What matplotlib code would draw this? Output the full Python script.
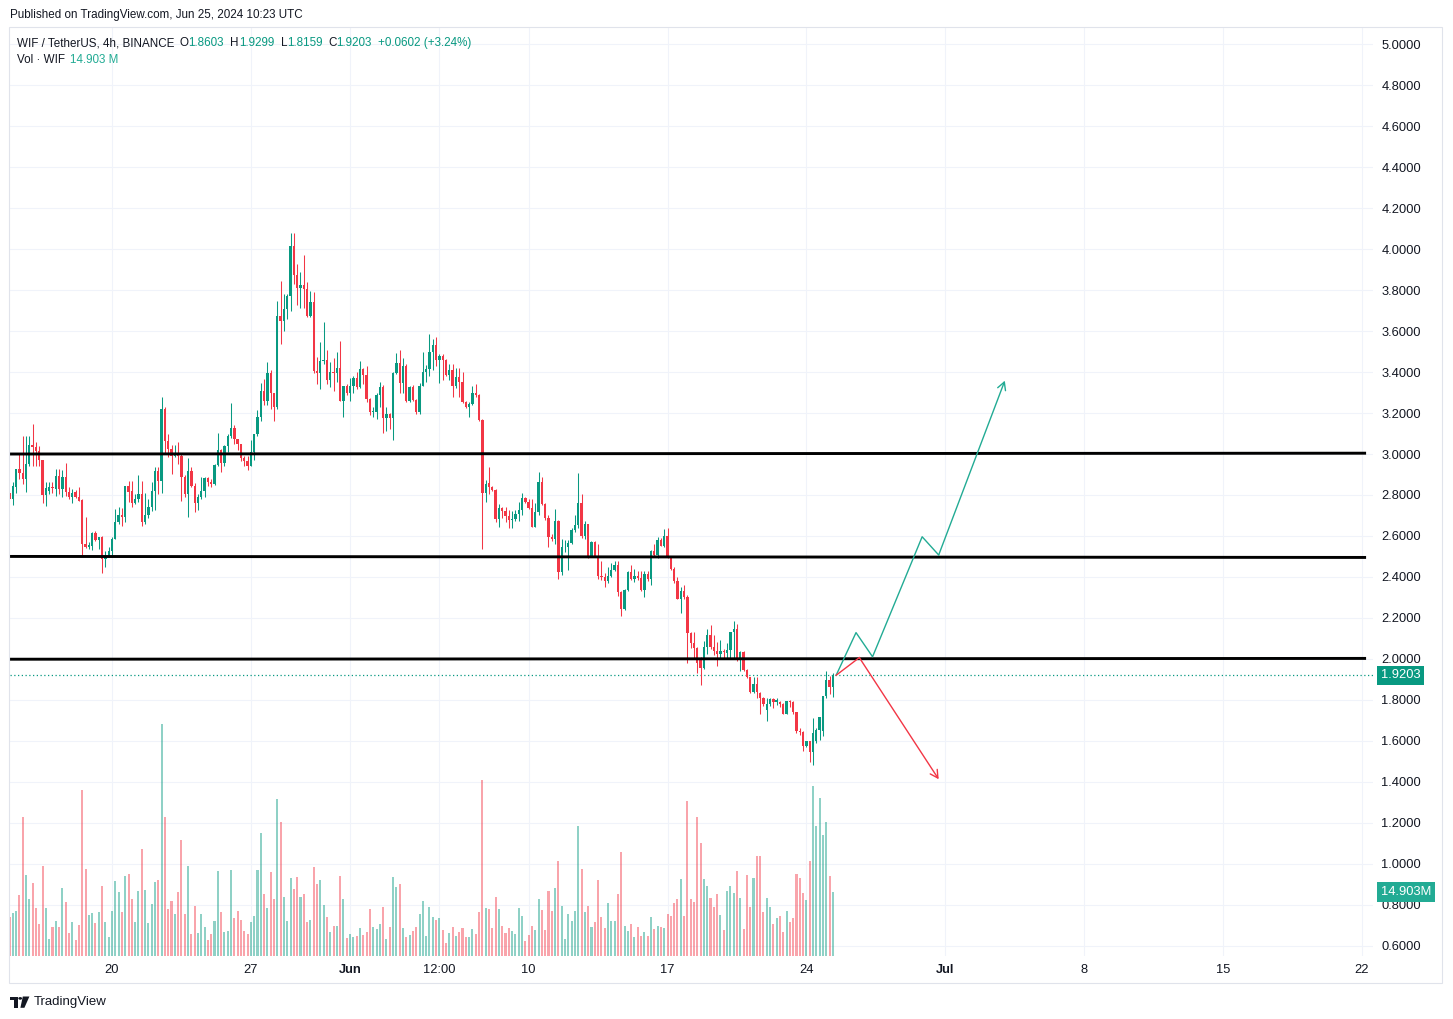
import numpy as np
import pandas as pd
import matplotlib
matplotlib.use("Agg")
import matplotlib.pyplot as plt
import matplotlib.dates as mdates
import matplotlib.transforms as mtransforms
from matplotlib.patches import Rectangle, Polygon, Circle

W, H = 1453, 1019
UP = "#089981"
DOWN = "#F23645"
VOL_UP = "#22ab94"
TEXT = "#131722"
GRID = "#f0f3fa"

# 4h candles, WIF/USDT, first bar 2024-05-14 20:00 UTC
first_bar = "2024-05-14 20:00"
opens = [
    2.81, 2.78, 2.84, 2.927, 2.909, 2.878, 2.951, 3.045, 3.036, 3.016,
    2.971, 2.80, 2.821, 2.84, 2.829, 2.894, 2.827, 2.889, 2.816, 2.788,
    2.816, 2.79, 2.775, 2.56, 2.547, 2.552, 2.616, 2.58, 2.596, 2.487,
    2.50, 2.528, 2.585, 2.669, 2.702, 2.694, 2.845, 2.821, 2.76, 2.78,
    2.805, 2.669, 2.702, 2.742, 2.821, 2.918, 2.866, 3.22, 3.065, 3.024,
    2.992, 3.00, 2.992, 2.889, 2.805, 2.918, 2.845, 2.759, 2.791, 2.821,
    2.883, 2.861, 2.855, 2.948, 3.019, 2.954, 3.039, 3.089, 3.127, 3.073,
    3.049, 2.98, 2.964, 2.943, 3.008, 3.097, 3.182, 3.309, 3.26, 3.396,
    3.296, 3.228, 3.676, 3.648, 3.708, 3.773, 4.018, 3.874, 3.811, 3.826,
    3.806, 3.672, 3.741, 3.404, 3.395, 3.456, 3.46, 3.362, 3.402, 3.398,
    3.42, 3.257, 3.334, 3.30, 3.334, 3.371, 3.325, 3.415, 3.387, 3.271,
    3.205, 3.205, 3.29, 3.329, 3.176, 3.195, 3.176, 3.398, 3.444, 3.347,
    3.428, 3.261, 3.325, 3.265, 3.206, 3.334, 3.402, 3.415, 3.50, 3.534,
    3.458, 3.478, 3.458, 3.387, 3.41, 3.33, 3.374, 3.353, 3.252, 3.228,
    3.245, 3.296, 3.29, 3.166, 2.808, 2.857, 2.84, 2.824, 2.685, 2.736,
    2.72, 2.699, 2.678, 2.685, 2.707, 2.728, 2.787, 2.768, 2.736, 2.645,
    2.715, 2.861, 2.756, 2.687, 2.593, 2.585, 2.674, 2.422, 2.544, 2.548,
    2.565, 2.63, 2.653, 2.759, 2.602, 2.658, 2.503, 2.568, 2.503, 2.405,
    2.40, 2.378, 2.405, 2.433, 2.459, 2.324, 2.243, 2.336, 2.422, 2.392,
    2.405, 2.395, 2.336, 2.414, 2.39, 2.528, 2.507, 2.581, 2.552, 2.601,
    2.492, 2.438, 2.381, 2.292, 2.33, 2.30, 2.126, 2.075, 2.052, 2.006,
    1.954, 2.06, 2.117, 2.06, 2.04, 2.025, 2.04, 2.03, 2.045, 2.129,
    2.145, 1.994, 2.031, 1.945, 1.909, 1.84, 1.876, 1.835, 1.811, 1.749,
    1.779, 1.806, 1.79, 1.79, 1.78, 1.733, 1.792, 1.787, 1.738, 1.648,
    1.645, 1.575, 1.60, 1.547, 1.60, 1.652, 1.65, 1.819, 1.896, 1.8603,
]
highs = [
    2.82, 2.861, 2.927, 3.00, 3.089, 3.089, 3.089, 3.147, 3.057, 3.04,
    2.971, 2.861, 2.861, 2.861, 2.927, 2.927, 2.922, 2.956, 2.837, 2.829,
    2.824, 2.837, 2.78, 2.694, 2.568, 2.62, 2.625, 2.596, 2.60, 2.528,
    2.544, 2.594, 2.731, 2.743, 2.736, 2.845, 2.87, 2.87, 2.805, 2.899,
    2.87, 2.808, 2.78, 2.861, 2.935, 2.935, 3.28, 3.231, 3.098, 3.045,
    3.045, 3.057, 3.00, 2.90, 2.98, 2.935, 2.86, 2.805, 2.886, 2.886,
    2.89, 2.88, 2.952, 3.101, 3.025, 3.045, 3.10, 3.247, 3.14, 3.073,
    3.05, 2.99, 2.99, 3.07, 3.097, 3.215, 3.345, 3.366, 3.448, 3.41,
    3.30, 3.749, 3.847, 3.781, 3.78, 4.08, 4.08, 3.93, 3.888, 3.972,
    3.84, 3.798, 3.79, 3.475, 3.549, 3.646, 3.508, 3.448, 3.47, 3.50,
    3.553, 3.334, 3.34, 3.37, 3.38, 3.40, 3.455, 3.42, 3.432, 3.275,
    3.23, 3.30, 3.353, 3.335, 3.23, 3.20, 3.40, 3.491, 3.509, 3.47,
    3.44, 3.33, 3.335, 3.27, 3.345, 3.50, 3.435, 3.586, 3.56, 3.573,
    3.49, 3.49, 3.465, 3.44, 3.44, 3.42, 3.42, 3.40, 3.26, 3.255,
    3.332, 3.34, 3.295, 3.17, 2.873, 2.935, 2.845, 2.83, 2.756, 2.74,
    2.74, 2.728, 2.72, 2.725, 2.768, 2.811, 2.79, 2.78, 2.78, 2.76,
    2.913, 2.89, 2.76, 2.70, 2.61, 2.731, 2.68, 2.585, 2.58, 2.58,
    2.64, 2.702, 2.906, 2.805, 2.675, 2.66, 2.576, 2.575, 2.56, 2.48,
    2.42, 2.45, 2.47, 2.48, 2.48, 2.33, 2.34, 2.427, 2.46, 2.44,
    2.43, 2.43, 2.43, 2.43, 2.53, 2.56, 2.596, 2.59, 2.634, 2.639,
    2.50, 2.45, 2.40, 2.35, 2.36, 2.31, 2.13, 2.132, 2.06, 2.01,
    2.088, 2.145, 2.165, 2.117, 2.08, 2.09, 2.05, 2.075, 2.13, 2.186,
    2.17, 2.04, 2.04, 1.95, 1.91, 1.91, 1.91, 1.84, 1.815, 1.81,
    1.81, 1.81, 1.81, 1.795, 1.782, 1.795, 1.80, 1.795, 1.74, 1.66,
    1.648, 1.60, 1.60, 1.71, 1.66, 1.717, 1.82, 1.941, 1.917, 1.9299,
]
lows = [
    2.78, 2.751, 2.812, 2.878, 2.853, 2.816, 2.943, 2.943, 2.943, 2.943,
    2.759, 2.744, 2.805, 2.809, 2.796, 2.805, 2.788, 2.796, 2.78, 2.761,
    2.785, 2.772, 2.503, 2.541, 2.536, 2.531, 2.576, 2.536, 2.417, 2.446,
    2.495, 2.495, 2.585, 2.658, 2.65, 2.666, 2.764, 2.739, 2.756, 2.764,
    2.65, 2.658, 2.69, 2.722, 2.726, 2.804, 2.812, 3.00, 2.984, 2.902,
    2.985, 2.951, 2.772, 2.788, 2.694, 2.837, 2.715, 2.726, 2.78, 2.79,
    2.845, 2.84, 2.85, 2.94, 2.91, 2.94, 3.01, 3.08, 3.05, 3.02,
    2.965, 2.94, 2.922, 2.94, 2.97, 3.09, 3.16, 3.24, 3.24, 3.22,
    3.163, 3.22, 3.538, 3.60, 3.66, 3.70, 3.83, 3.73, 3.711, 3.711,
    3.667, 3.667, 3.398, 3.342, 3.318, 3.44, 3.342, 3.329, 3.31, 3.35,
    3.257, 3.179, 3.29, 3.26, 3.30, 3.318, 3.32, 3.34, 3.255, 3.191,
    3.18, 3.171, 3.23, 3.101, 3.11, 3.12, 3.068, 3.39, 3.30, 3.30,
    3.255, 3.255, 3.26, 3.196, 3.196, 3.33, 3.35, 3.38, 3.41, 3.43,
    3.345, 3.36, 3.38, 3.36, 3.276, 3.32, 3.28, 3.25, 3.225, 3.179,
    3.24, 3.28, 3.16, 2.536, 2.767, 2.805, 2.82, 2.666, 2.645, 2.69,
    2.67, 2.64, 2.64, 2.675, 2.675, 2.70, 2.76, 2.73, 2.645, 2.645,
    2.70, 2.75, 2.68, 2.547, 2.575, 2.56, 2.389, 2.41, 2.52, 2.433,
    2.56, 2.62, 2.64, 2.59, 2.585, 2.49, 2.495, 2.495, 2.389, 2.385,
    2.352, 2.37, 2.40, 2.43, 2.308, 2.207, 2.24, 2.33, 2.385, 2.375,
    2.385, 2.33, 2.30, 2.38, 2.36, 2.50, 2.49, 2.55, 2.545, 2.49,
    2.435, 2.37, 2.29, 2.226, 2.29, 1.982, 2.055, 2.006, 1.933, 1.873,
    1.95, 2.025, 2.05, 2.02, 1.966, 2.00, 2.00, 2.00, 2.00, 2.00,
    1.99, 1.941, 1.94, 1.905, 1.835, 1.835, 1.811, 1.733, 1.77, 1.697,
    1.77, 1.76, 1.775, 1.765, 1.73, 1.73, 1.765, 1.733, 1.64, 1.63,
    1.55, 1.57, 1.497, 1.482, 1.59, 1.603, 1.625, 1.811, 1.828, 1.8159,
]
closes = [
    2.78, 2.845, 2.927, 2.905, 2.878, 2.951, 3.045, 3.032, 3.013, 2.971,
    2.80, 2.832, 2.84, 2.832, 2.894, 2.827, 2.889, 2.816, 2.788, 2.812,
    2.79, 2.772, 2.56, 2.547, 2.555, 2.616, 2.58, 2.596, 2.487, 2.503,
    2.528, 2.585, 2.669, 2.702, 2.694, 2.845, 2.816, 2.76, 2.78, 2.805,
    2.669, 2.702, 2.74, 2.821, 2.918, 2.866, 3.22, 3.065, 3.024, 2.992,
    3.00, 2.992, 2.889, 2.805, 2.918, 2.845, 2.759, 2.791, 2.821, 2.883,
    2.861, 2.855, 2.948, 3.019, 2.954, 3.039, 3.089, 3.127, 3.073, 3.049,
    2.98, 2.964, 2.943, 3.008, 3.097, 3.182, 3.309, 3.26, 3.396, 3.296,
    3.228, 3.676, 3.648, 3.708, 3.773, 4.018, 3.874, 3.811, 3.826, 3.806,
    3.672, 3.741, 3.404, 3.395, 3.456, 3.46, 3.362, 3.402, 3.398, 3.42,
    3.257, 3.334, 3.30, 3.334, 3.371, 3.325, 3.415, 3.387, 3.271, 3.205,
    3.212, 3.29, 3.329, 3.176, 3.195, 3.176, 3.398, 3.444, 3.347, 3.428,
    3.261, 3.325, 3.265, 3.206, 3.334, 3.402, 3.415, 3.50, 3.534, 3.458,
    3.478, 3.458, 3.387, 3.41, 3.33, 3.374, 3.35, 3.252, 3.228, 3.245,
    3.296, 3.287, 3.166, 2.808, 2.853, 2.84, 2.824, 2.685, 2.736, 2.72,
    2.699, 2.678, 2.685, 2.707, 2.728, 2.787, 2.768, 2.736, 2.645, 2.715,
    2.861, 2.756, 2.687, 2.593, 2.585, 2.674, 2.422, 2.544, 2.548, 2.565,
    2.63, 2.653, 2.759, 2.602, 2.658, 2.503, 2.568, 2.503, 2.405, 2.40,
    2.378, 2.405, 2.433, 2.459, 2.324, 2.243, 2.336, 2.422, 2.392, 2.405,
    2.395, 2.336, 2.414, 2.39, 2.528, 2.507, 2.581, 2.552, 2.601, 2.492,
    2.438, 2.381, 2.292, 2.33, 2.30, 2.126, 2.075, 2.052, 1.982, 1.954,
    2.06, 2.117, 2.06, 2.036, 2.025, 2.04, 2.035, 2.045, 2.129, 2.145,
    1.994, 2.031, 1.945, 1.909, 1.84, 1.876, 1.84, 1.811, 1.779, 1.779,
    1.806, 1.79, 1.80, 1.78, 1.733, 1.792, 1.787, 1.738, 1.648, 1.645,
    1.575, 1.60, 1.547, 1.64, 1.652, 1.717, 1.819, 1.896, 1.8601, 1.9203,
]
# volume in millions of WIF
volumes = [
    9.0, 10.01, 10.48, 14.21, 32.37, 18.86, 13.27, 17.00, 11.18, 7.45,
    20.96, 11.18, 3.96, 6.75, 8.15, 6.75, 15.84, 12.58, 5.36, 7.92,
    3.73, 7.22, 38.66, 20.26, 9.55, 10.01, 7.69, 10.25, 16.30, 7.92,
    4.42, 10.48, 17.47, 14.91, 10.25, 18.63, 19.10, 13.27, 7.92, 15.14,
    24.92, 15.37, 7.69, 12.11, 17.23, 17.70, 54.03, 32.37, 10.95, 12.81,
    9.78, 14.91, 27.01, 9.78, 20.96, 5.12, 11.64, 5.36, 9.78, 6.75,
    3.73, 5.12, 8.15, 19.80, 10.25, 5.59, 5.82, 20.03, 8.85, 10.48,
    8.38, 5.82, 5.12, 7.92, 9.32, 20.03, 28.65, 14.44, 11.18, 19.56,
    13.27, 36.56, 31.21, 13.74, 8.15, 18.17, 15.60, 18.40, 13.74, 14.44,
    7.92, 8.38, 20.73, 16.77, 17.70, 11.88, 9.08, 5.59, 6.99, 6.99,
    18.63, 13.27, 4.19, 5.12, 4.42, 4.66, 6.52, 4.89, 5.59, 10.95,
    6.75, 6.29, 7.45, 11.41, 3.96, 6.75, 18.40, 16.07, 16.77, 6.52,
    4.42, 4.89, 5.82, 6.75, 9.78, 12.81, 4.66, 11.41, 9.08, 8.38,
    8.85, 6.06, 3.03, 5.36, 6.75, 4.66, 5.59, 6.52, 4.42, 4.42,
    6.29, 5.12, 10.25, 40.99, 11.18, 10.95, 6.52, 13.74, 10.95, 6.99,
    5.36, 6.52, 5.82, 5.12, 11.18, 9.32, 3.49, 4.89, 6.99, 6.06,
    13.27, 10.71, 6.06, 15.14, 10.48, 15.84, 22.12, 11.64, 3.96, 9.78,
    8.15, 10.48, 30.28, 20.26, 10.25, 11.64, 6.75, 7.92, 17.70, 9.08,
    6.52, 12.34, 8.15, 8.15, 14.44, 24.22, 6.99, 5.82, 7.45, 4.42,
    6.75, 4.66, 5.59, 4.66, 9.08, 6.29, 6.99, 6.75, 6.52, 9.78,
    9.32, 12.34, 13.27, 17.93, 9.32, 36.10, 13.27, 12.58, 32.37, 26.32,
    17.93, 16.30, 13.51, 11.41, 14.44, 9.55, 6.06, 15.14, 16.30, 14.67,
    19.80, 13.51, 6.29, 18.86, 11.41, 18.17, 23.29, 23.29, 10.25, 13.51,
    11.41, 7.45, 8.85, 9.32, 5.59, 10.48, 7.92, 8.85, 19.10, 18.17,
    14.67, 13.04, 22.12, 39.59, 30.28, 36.80, 28.18, 31.21, 18.63, 14.903,
]

tick_dates = ["2024-05-20 00:00", "2024-05-27 00:00", "2024-06-01 00:00", "2024-06-05 12:00",
              "2024-06-10 00:00", "2024-06-17 00:00", "2024-06-24 00:00", "2024-07-01 00:00",
              "2024-07-08 00:00", "2024-07-15 00:00", "2024-07-22 00:00"]
tick_labels = ["20", "27", "Jun", "12:00", "10", "17", "24", "Jul", "8", "15", "22"]
price_ticks = [0.6, 0.8, 1.0, 1.2, 1.4, 1.6, 1.8, 2.0, 2.2, 2.4, 2.6, 2.8,
               3.0, 3.2, 3.4, 3.6, 3.8, 4.0, 4.2, 4.4, 4.6, 4.8, 5.0]

# horizontal levels drawn by the author (price at left end, price at right end)
level_left = [3.000, 2.500, 1.998]
level_right = [3.004, 2.495, 2.002]
level_start, level_end = "2024-05-14 00:00", "2024-07-22 05:00"

# projected paths
up_path_t = ["2024-06-25 12:00", "2024-06-26 12:00", "2024-06-27 08:00",
             "2024-06-29 20:00", "2024-06-30 16:00", "2024-07-04 00:00"]
up_path_p = [1.92, 2.128, 2.010, 2.596, 2.507, 3.358]
down_path_t = ["2024-06-25 12:00", "2024-06-26 16:00", "2024-06-30 16:00"]
down_path_p = [1.92, 2.006, 1.412]

x_left, x_right = "2024-05-14 20:37", "2024-07-22 13:22"
y_low, y_high = 0.549, 5.085
vol_top = 216.4


def px(xp, yp):
    return xp / W, 1 - yp / H


def dnum(strings):
    return mdates.date2num(pd.to_datetime(strings, format="%Y-%m-%d %H:%M"))


plt.rcParams["font.family"] = ["Liberation Sans", "DejaVu Sans"]

fig = plt.figure(figsize=(W / 100, H / 100), dpi=100)
fig.patch.set_facecolor("white")
ax = fig.add_axes([10 / W, 1 - 956 / H, 1363 / W, 929 / H])

times = pd.date_range(first_bar, periods=len(closes), freq="4h")
x = mdates.date2num(times)
o, hi, lo, c = (np.array(a) for a in (opens, highs, lows, closes))
colors = np.where(c >= o, UP, DOWN)
bar_w = 0.7 / 6

ax.vlines(x, lo, hi, colors=colors, lw=0.75, zorder=3)
ax.bar(x, np.maximum(np.abs(c - o), 0.004), bottom=np.minimum(o, c),
       width=bar_w, color=colors, lw=0, zorder=4)

# levels
lx = dnum([level_start, level_end])
for pl, pr in zip(level_left, level_right):
    ax.plot(lx, [pl, pr], color="black", lw=2.1, zorder=5, solid_capstyle="butt")

# projections
for pt, pp, col in ((up_path_t, up_path_p, VOL_UP), (down_path_t, down_path_p, "#f23645")):
    tx = dnum(pt)
    ax.plot(tx[:-1], pp[:-1], color=col, lw=1, zorder=6)
    ax.annotate("", xy=(tx[-1], pp[-1]), xytext=(tx[-2], pp[-2]),
                arrowprops=dict(arrowstyle="->,head_length=0.55,head_width=0.3",
                                color=col, lw=1, shrinkA=0, shrinkB=0), zorder=6)

# last price line
ax.axhline(closes[-1], color=UP, lw=0.9, ls=(0, (1, 2)), zorder=2)

ax.set_xlim(dnum([x_left, x_right]))
ax.set_ylim(y_low, y_high)
ax.grid(True, color=GRID, lw=0.8)
ax.set_axisbelow(True)
for s in ax.spines.values():
    s.set_visible(False)

# volume pane
axv = ax.twinx()
axv.bar(x, volumes, width=0.62 / 6, color=colors, alpha=0.45, lw=0)
axv.set_ylim(0, vol_top)
axv.set_yticks([])
for s in axv.spines.values():
    s.set_visible(False)

# price scale on the right (twinx moves it left, so set it afterwards)
ax.yaxis.tick_right()
ax.yaxis.set_label_position("right")
ax.set_yticks(price_ticks)
ax.set_yticklabels([f"{p:.4f}" for p in price_ticks])
ax.set_xticks(dnum(tick_dates))
ax.set_xticklabels(tick_labels)
for lbl in ax.get_xticklabels():
    if lbl.get_text() in ("Jun", "Jul"):
        lbl.set_fontweight("bold")
ax.tick_params(axis="y", which="both", left=False, right=False, labelleft=False,
               labelright=True, length=0, pad=6, labelsize=9.3, labelcolor=TEXT)
ax.tick_params(axis="x", length=0, pad=5.5, labelsize=9.3, labelcolor=TEXT)

# axis value boxes
tr = mtransforms.blended_transform_factory(ax.transAxes, ax.transData)
ax.text(1.0059, closes[-1], f"{closes[-1]:.4f}", transform=tr, ha="left", va="center",
        fontsize=9.3, color="white", clip_on=False, zorder=10,
        bbox=dict(boxstyle="square,pad=0.28", fc=UP, ec="none"))
trv = mtransforms.blended_transform_factory(axv.transAxes, axv.transData)
axv.text(1.0059, volumes[-1], f"{volumes[-1]:.3f}M", transform=trv, ha="left", va="center",
         fontsize=9.3, color="white", clip_on=False, zorder=10,
         bbox=dict(boxstyle="square,pad=0.28", fc=VOL_UP, ec="none"))

# frame
fig.add_artist(Rectangle(px(9, 983), (1442 - 9) / W, (983 - 27) / H,
                         transform=fig.transFigure, fill=False, ec="#e0e3eb", lw=0.8))

# header texts
fig.text(*px(10, 15), "Published on TradingView.com, Jun 25, 2024 10:23 UTC",
         fontsize=8.4, color=TEXT, va="center")
chg = closes[-1] - closes[-2]
legend = [
    (17.3, "WIF / TetherUS, 4h, BINANCE", TEXT),
    (179, "O", TEXT), (187.7, f"{opens[-1]:.4f}", UP),
    (230, "H", TEXT), (239.3, f"{highs[-1]:.4f}", UP),
    (281, "L", TEXT), (287.3, f"{lows[-1]:.4f}", UP),
    (328.3, "C", TEXT), (336, f"{closes[-1]:.4f}", UP),
    (377.7, f"{chg:+.4f} ({chg / closes[-2] * 100:+.2f}%)", UP),
]
for xp, s, col in legend:
    fig.text(*px(xp, 43), s, fontsize=8.4, color=col, va="center")
fig.text(*px(17.3, 60), "Vol · WIF", fontsize=8.4, color=TEXT, va="center")
fig.text(*px(70, 60), f"{volumes[-1]:.3f} M", fontsize=8.4, color=VOL_UP, va="center")


# footer logo
def fpoly(pts):
    fig.add_artist(Polygon([px(a, b) for a, b in pts], closed=True,
                           transform=fig.transFigure, fc=TEXT, ec="none"))


fpoly([(10, 996.5), (17.5, 996.5), (17.5, 1007.8), (14.2, 1007.8), (14.2, 1000), (10, 1000)])
fig.add_artist(Circle(px(20.2, 998.4), 1.9 / W, transform=fig.transFigure, fc=TEXT, ec="none"))
fpoly([(22.8, 996.5), (29.4, 996.5), (24.4, 1007.8), (20.4, 1007.8)])
fig.text(*px(34, 1002.5), "TradingView", fontsize=9.5, color=TEXT, va="center")

fig.savefig("out.png", dpi=100, facecolor="white")
